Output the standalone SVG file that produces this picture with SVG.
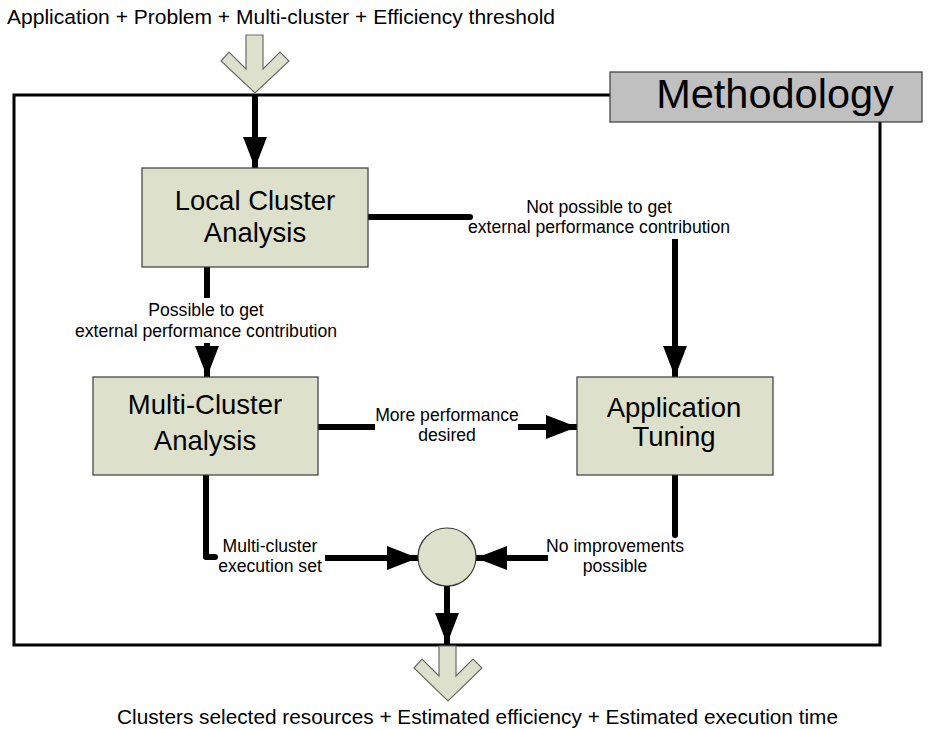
<svg xmlns="http://www.w3.org/2000/svg" width="932" height="729" viewBox="0 0 932 729">
<defs>
<style>
.box{fill:#DDE0CA;stroke:#3a3a3a;stroke-width:1.2}
.big{font-family:"Liberation Sans",Arial,sans-serif;font-size:27.5px;fill:#000;text-anchor:middle}
.lbl{font-family:"Liberation Sans",Arial,sans-serif;font-size:17.6px;fill:#000;text-anchor:middle}
.io{font-family:"Liberation Sans",Arial,sans-serif;font-size:20.5px;fill:#000}
.conn{fill:none;stroke:#000;stroke-width:6}
.chev{fill:#DDE0CA;stroke:#6a6a6a;stroke-width:1.2}
</style>
<marker id="ah" viewBox="0 0 10 10" refX="10" refY="5" markerWidth="5.2" markerHeight="4" orient="auto" markerUnits="strokeWidth" preserveAspectRatio="none">
<path d="M0,0 L10,5 L0,10 Z" fill="#000"/>
</marker>
</defs>
<rect width="932" height="729" fill="#fff"/>
<text class="io" x="7" y="24" textLength="548" lengthAdjust="spacingAndGlyphs">Application + Problem + Multi-cluster + Efficiency threshold</text>
<text class="io" x="117" y="724" textLength="721" lengthAdjust="spacingAndGlyphs">Clusters selected resources + Estimated efficiency + Estimated execution time</text>
<g id="frame">
<path d="M610,95 L14,95 L14,645 L880,645 L880,121" fill="none" stroke="#000" stroke-width="3"/>
</g>
<g id="methodology">
<rect x="610" y="72" width="312" height="50" fill="#C0C0C0" stroke="#3a3a3a" stroke-width="1.2"/>
<text x="775" y="108" font-family="Liberation Sans,Arial,sans-serif" font-size="41.5" text-anchor="middle">Methodology</text>
</g>
<g id="input">
<polygon class="chev" points="246,35 263,35 263,69 280,52 289,61 255,93 221,61 229,52 246,69"/>
</g>
<g id="output">
<polygon class="chev" points="439,646 456,646 456,676 473,659 482,668 448,701 414,668 422,659 439,676"/>
</g>
<g id="connectors">
<path class="conn" d="M255,95 L255,168" marker-end="url(#ah)"/>
<path class="conn" d="M368,217 L470,217" stroke-linecap="round"/>
<text class="lbl" x="599" y="213">Not possible to get</text>
<text class="lbl" x="599" y="233">external performance contribution</text>
<path class="conn" d="M675,239 L675,377" marker-end="url(#ah)"/>
<path class="conn" d="M207,267 L207,298"/>
<text class="lbl" x="206" y="316">Possible to get</text>
<text class="lbl" x="206" y="337">external performance contribution</text>
<path class="conn" d="M207,343 L207,377" marker-end="url(#ah)"/>
<path class="conn" d="M318,427 L375,427"/>
<text class="lbl" x="447" y="421">More performance</text>
<text class="lbl" x="447" y="441">desired</text>
<path class="conn" d="M518,427 L577,427" marker-end="url(#ah)"/>
<path class="conn" d="M206,475 L206,557 L215,557" stroke-linejoin="round" stroke-linecap="round"/>
<text class="lbl" x="270" y="552">Multi-cluster</text>
<text class="lbl" x="270" y="572">execution set</text>
<path class="conn" d="M325,558 L418,558" marker-end="url(#ah)"/>
<path class="conn" d="M675,475 L675,535" stroke-linecap="round"/>
<text class="lbl" x="615" y="552">No improvements</text>
<text class="lbl" x="615" y="572">possible</text>
<path class="conn" d="M548,558 L476,558" marker-end="url(#ah)"/>
<path class="conn" d="M447,586 L447,644" marker-end="url(#ah)"/>
</g>
<g id="local-cluster">
<rect class="box" x="142" y="168" width="226" height="99"/>
<text class="big" x="255" y="210">Local Cluster</text>
<text class="big" x="255" y="242">Analysis</text>
</g>
<g id="multi-cluster">
<rect class="box" x="93" y="377" width="225" height="98"/>
<text class="big" x="205" y="414">Multi-Cluster</text>
<text class="big" x="205" y="450">Analysis</text>
</g>
<g id="app-tuning">
<rect class="box" x="577" y="377" width="196" height="98"/>
<text class="big" x="674" y="417">Application</text>
<text class="big" x="674" y="446">Tuning</text>
</g>
<g id="merge">
<circle class="box" cx="447" cy="557" r="29"/>
</g>
</svg>
